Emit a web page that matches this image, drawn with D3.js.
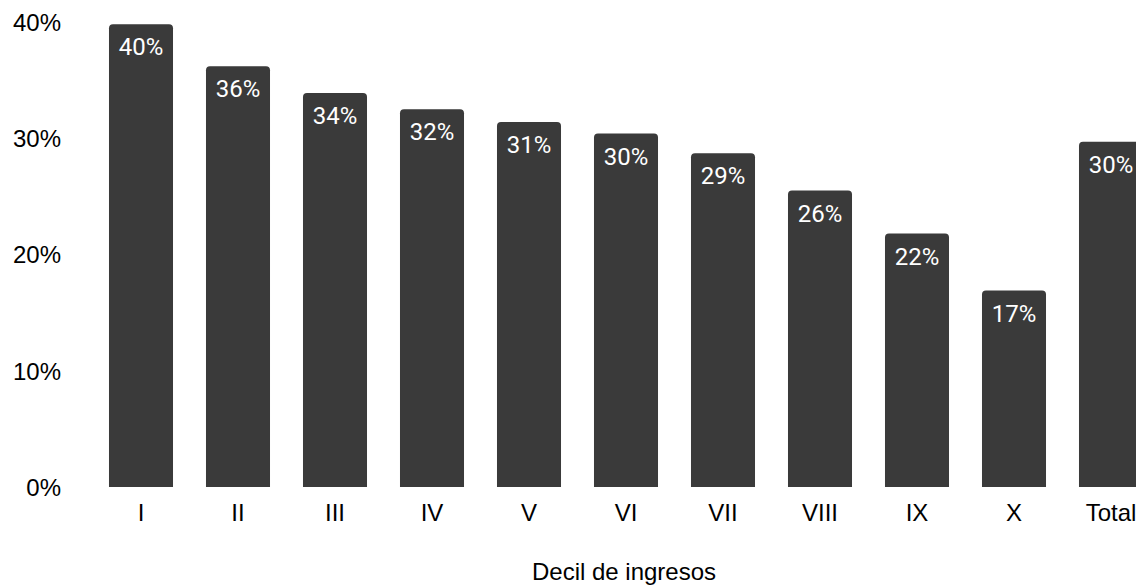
<!DOCTYPE html>
<html>
<head>
<meta charset="utf-8">
<script src="https://cdn.jsdelivr.net/npm/d3@7/dist/d3.min.js"></script>
<style>
  html, body { margin: 0; padding: 0; background: #fff; }
  svg { display: block; }
</style>
</head>
<body>
<svg id="chart" width="1136" height="586"></svg>
<script>
const categories = ["I", "II", "III", "IV", "V", "VI", "VII", "VIII", "IX", "X", "Total"];
const values = [39.8, 36.2, 33.9, 32.5, 31.4, 30.4, 28.7, 25.5, 21.8, 16.9, 29.7];
const valueLabels = ["40%", "36%", "34%", "32%", "31%", "30%", "29%", "26%", "22%", "17%", "30%"];
const yTicks = [0, 10, 20, 30, 40];
const xTitle = "Decil de ingresos";

const svg = d3.select("#chart");
const barColor = "#3a3a3a";

const x = d3.scaleBand()
  .domain(categories)
  .range([92.5, 92.5 + 11 * 97])
  .paddingInner(0.34)
  .paddingOuter(0.17);

const y = d3.scaleLinear().domain([0, 40]).range([487, 22]);

// Y axis labels
const yAxis = d3.axisLeft(y).tickValues(yTicks).tickFormat(d => d + "%").tickSize(0).tickPadding(0);
const yg = svg.append("g").attr("transform", "translate(61,0)").call(yAxis);
yg.select(".domain").remove();
yg.selectAll("text")
  .attr("font-family", "Liberation Sans, Arial, sans-serif")
  .attr("font-size", 24)
  .attr("fill", "#000")
  .attr("dy", "0.35em");

// Bars with rounded top corners
const r = 4;
function barPath(d, i) {
  const x0 = x(categories[i]);
  const w = x.bandwidth();
  const yt = y(d);
  const yb = y(0);
  return `M${x0},${yb}V${yt + r}Q${x0},${yt} ${x0 + r},${yt}H${x0 + w - r}Q${x0 + w},${yt} ${x0 + w},${yt + r}V${yb}Z`;
}
svg.append("g").selectAll("path")
  .data(values)
  .join("path")
  .attr("d", barPath)
  .attr("fill", barColor);

// Value labels
svg.append("g").selectAll("text")
  .data(values)
  .join("text")
  .attr("x", (d, i) => x(categories[i]) + x.bandwidth() / 2)
  .attr("y", d => y(d) + 31)
  .attr("text-anchor", "middle")
  .attr("font-family", "Roboto, sans-serif")
  .attr("font-weight", 400)
  .attr("font-size", 24)
  .attr("fill", "#fff")
  .text((d, i) => valueLabels[i]);

// X axis labels
const xAxis = d3.axisBottom(x).tickSize(0).tickPadding(0);
const xg = svg.append("g").call(xAxis);
xg.select(".domain").remove();
xg.selectAll("text")
  .attr("font-family", "Liberation Sans, Arial, sans-serif")
  .attr("font-size", 24)
  .attr("fill", "#000")
  .attr("y", 521)
  .attr("dy", null);

// X axis title
svg.append("text")
  .attr("x", 624)
  .attr("y", 580)
  .attr("text-anchor", "middle")
  .attr("font-family", "Liberation Sans, Arial, sans-serif")
  .attr("font-size", 24)
  .attr("fill", "#000")
  .text(xTitle);
</script>
</body>
</html>
